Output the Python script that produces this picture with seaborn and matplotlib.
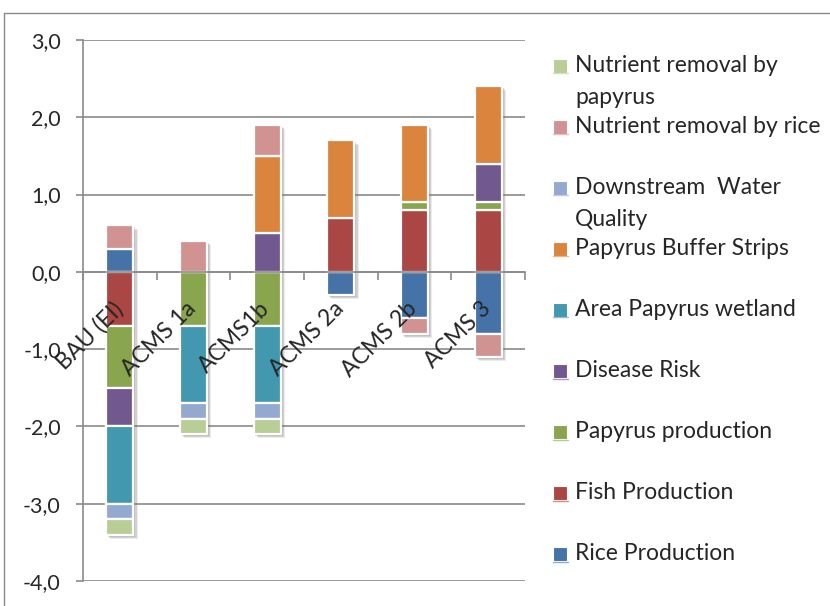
import matplotlib
matplotlib.use("Agg")
import matplotlib.pyplot as plt
from matplotlib.patches import Rectangle
from matplotlib.lines import Line2D
from matplotlib.transforms import ScaledTranslation
import numpy as np
import pandas as pd
import seaborn as sns

categories = ["BAU (EI)", "ACMS 1a", "ACMS1b", "ACMS 2a", "ACMS 2b", "ACMS 3"]
series = ["Rice Production", "Fish Production", "Papyrus production", "Disease Risk",
          "Area Papyrus wetland", "Papyrus Buffer Strips", "Downstream Water Quality",
          "Nutrient removal by rice", "Nutrient removal by papyrus"]
legend_labels = ["Rice Production", "Fish Production", "Papyrus production", "Disease Risk",
                 "Area Papyrus wetland", "Papyrus Buffer Strips", "Downstream  Water\nQuality",
                 "Nutrient removal by rice", "Nutrient removal by\npapyrus"]
rice = [0.3, 0.0, 0.0, -0.3, -0.6, -0.8]
fish = [-0.7, 0.0, 0.0, 0.7, 0.8, 0.8]
papyrus_prod = [-0.8, -0.7, -0.7, 0.0, 0.1, 0.1]
disease = [-0.5, 0.0, 0.5, 0.0, 0.0, 0.5]
area_papyrus = [-1.0, -1.0, -1.0, 0.0, 0.0, 0.0]
buffer_strips = [0.0, 0.0, 1.0, 1.0, 1.0, 1.0]
downstream = [-0.2, -0.2, -0.2, 0.0, 0.0, 0.0]
nutr_rice = [0.3, 0.4, 0.4, 0.0, -0.2, -0.3]
nutr_papyrus = [-0.2, -0.2, -0.2, 0.0, 0.0, 0.0]
colors = ["#4572A7", "#AA4643", "#89A54E", "#71588F", "#4198AF",
          "#DB843D", "#93A9CF", "#D19392", "#B9CD96"]

values = [rice, fish, papyrus_prod, disease, area_papyrus, buffer_strips,
          downstream, nutr_rice, nutr_papyrus]

# long table with stacking base (positives and negatives stacked apart)
rows = []
pos = np.zeros(len(categories))
neg = np.zeros(len(categories))
for name, vals in zip(series, values):
    for i, v in enumerate(vals):
        if v == 0:
            continue
        base = pos[i] if v > 0 else neg[i]
        rows.append({"category": categories[i], "cat_idx": i, "series": name,
                     "value": v, "base": base})
        if v > 0:
            pos[i] += v
        else:
            neg[i] += v
df = pd.DataFrame(rows)

sns.set_style("white")
plt.rcParams["font.family"] = ["Lato", "DejaVu Sans"]
GRAY = "#8a8a8a"

fig = plt.figure(figsize=(8.3, 6.06), dpi=100)
ax = fig.add_axes([83 / 830, 1 - 581 / 606, (525 - 83) / 830, (581 - 40) / 606])

for name, color in zip(series, colors):
    sub = df[df["series"] == name].sort_values("cat_idx")
    sns.barplot(data=sub, x="category", y="value", order=categories, color=color,
                saturation=1, width=0.37, errorbar=None, bottom=sub["base"].to_numpy(),
                edgecolor="white", linewidth=1.6, zorder=3, ax=ax)

# soft shadow under every segment
for off, alpha in [(3.0, 0.12), (2.2, 0.2), (1.4, 0.2)]:
    shift = ScaledTranslation(off / 72, -off / 72, fig.dpi_scale_trans)
    for patch in [p for p in ax.patches if p.get_zorder() == 3]:
        ax.add_patch(Rectangle(patch.get_xy(), patch.get_width(), patch.get_height(),
                               transform=ax.transData + shift, facecolor="0.4",
                               alpha=alpha, linewidth=0, zorder=2))

ax.set_xlim(-0.5, 5.5)
ax.set_ylim(-4, 3)
ax.set_xlabel("")
ax.set_ylabel("")
ax.set_yticks(np.arange(-4, 4, 1))
ax.set_yticklabels([f"{t:.1f}".replace(".", ",") for t in np.arange(-4, 4, 1)])
ax.yaxis.grid(True, color=GRAY, linewidth=1.2)
ax.set_axisbelow(True)

for side in ["top", "right"]:
    ax.spines[side].set_visible(False)
ax.spines["left"].set_color(GRAY)
ax.spines["left"].set_linewidth(1.2)
ax.spines["bottom"].set_position(("data", 0))
ax.spines["bottom"].set_color(GRAY)
ax.spines["bottom"].set_linewidth(1.2)
ax.spines["bottom"].set_zorder(4)

ax.tick_params(axis="y", direction="out", length=5, width=1.2, color=GRAY,
               labelsize=15.5, pad=11, left=True)
ax.set_xticks(np.arange(-0.5, 6, 1), minor=True)
ax.set_xticks(range(len(categories)))
ax.set_xticklabels([])
ax.tick_params(axis="x", which="major", length=0)
ax.tick_params(axis="x", which="minor", direction="out", length=6, width=1.2,
               color=GRAY, bottom=True)

lbl_shift = ScaledTranslation(-8 / 100, -26 / 100, fig.dpi_scale_trans)
for i, cat in enumerate(categories):
    ax.text(i, 0, cat, transform=ax.transData + lbl_shift, rotation=45,
            rotation_mode="anchor", ha="right", va="top", fontsize=16.5, zorder=5)

# legend drawn by hand, top entry is the last series
for k, (lab, color) in enumerate(zip(legend_labels[::-1], colors[::-1])):
    yc = 65 + 61.1 * k
    fig.patches.append(Rectangle((553 / 830, 1 - (yc + 7.5) / 606), 14 / 830, 14 / 606,
                                 transform=fig.transFigure, facecolor=color,
                                 edgecolor="white", linewidth=0.8))
    fig.add_artist(Line2D([553 / 830, 568 / 830], [1 - (yc + 8) / 606] * 2, color=color,
                          alpha=0.6, linewidth=1, transform=fig.transFigure))
    for j, line in enumerate(lab.split("\n")):
        fig.text(575 / 830, 1 - (yc + 32 * j) / 606, line, fontsize=16.5,
                 va="center", ha="left")

# chart frame (top and left edges only)
fig.add_artist(Line2D([4 / 830, 1], [1 - 13 / 606, 1 - 13 / 606], color=GRAY,
                      linewidth=1, transform=fig.transFigure))
fig.add_artist(Line2D([4 / 830, 4 / 830], [0, 1 - 13 / 606], color=GRAY,
                      linewidth=1, transform=fig.transFigure))

fig.savefig("out.png", dpi=100)
